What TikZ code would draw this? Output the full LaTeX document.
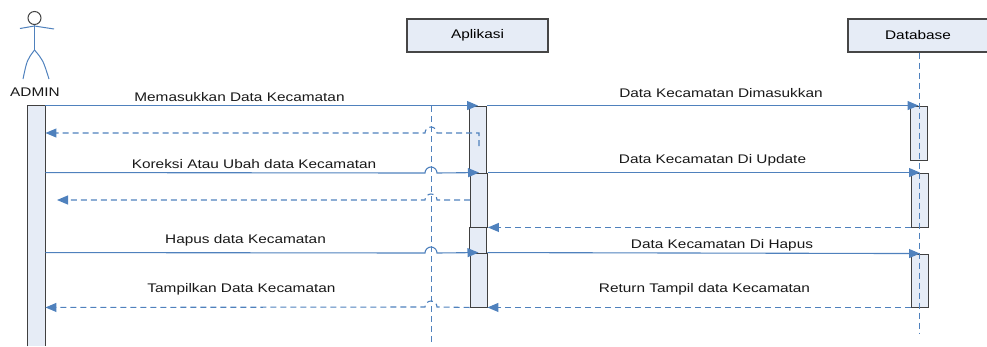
\documentclass[tikz,border=0pt]{standalone}
\usepackage{fontspec}
\setmainfont{Liberation Sans}[FakeStretch=1.23]
\usetikzlibrary{arrows.meta}
\definecolor{seqblue}{RGB}{79,129,189}
\definecolor{seqfill}{RGB}{230,236,246}
\definecolor{seqgrey}{RGB}{70,70,70}
\begin{document}
\begin{tikzpicture}
[x=1pt,y=-1pt,font=\fontsize{12.5}{14}\selectfont,%
  boxdecorate/.style={shape=rectangle,draw=seqgrey,line width=1.2pt,fill=seqfill,minimum width=141pt,minimum height=33pt,inner sep=0pt},%
  bardecorate/.style={shape=rectangle,draw=black!75,line width=0.9pt,fill=seqfill,minimum width=17pt,inner sep=0pt},%
  calldecorate/.style={-{Triangle[length=11pt,width=9pt]},line width=1.1pt,color=seqblue},%
  returndecorate/.style={-{Triangle[length=11pt,width=9pt]},line width=1.1pt,color=seqblue,dash pattern=on 6pt off 4pt},%
  lifedecorate/.style={line width=1pt,color=seqblue,dash pattern=on 6pt off 4pt},%
  labeldecorate/.style={anchor=base,inner sep=0pt,text=black!90}]
\useasboundingbox (0,0) rectangle (987,346);
%%% actor ADMIN
\node (head) at (34.5,18) [shape=circle,draw=seqgrey,line width=1pt,minimum size=13pt,inner sep=0pt] {};
\draw[seqblue,line width=1pt] (head.south) -- (34.5,50);
\draw[seqblue,line width=1pt] (20,28.5) -- (34.5,26) -- (54,29);
\draw[seqblue,line width=1pt] (34.5,50) .. controls (27,60) .. (23,79);
\draw[seqblue,line width=1pt] (34.5,50) .. controls (43,60) .. (49,79);
\node (admin) at (35,96) [labeldecorate] {ADMIN};
%%% objects
\node (apl) at (477.5,35.5) [boxdecorate] {Aplikasi};
\node (db) at (918,35.5) [boxdecorate,minimum width=140pt] {Database};
% lifelines
\coordinate (apltop) at (431,106);
\coordinate (aplend) at (431,345);
\coordinate (dbend) at (919,333);
\draw[lifedecorate] (apltop) -- (aplend);
% activation bars
\node (adminbar) at (36.5,226) [bardecorate,draw=none,minimum height=240pt] {};
\draw[black!75,line width=1pt] (adminbar.south west) -- (adminbar.north west) -- (adminbar.north east) -- (adminbar.south east);
\node (ap1) at (478,139.5) [bardecorate,minimum height=67pt] {};
\node (ap2) at (479,200) [bardecorate,minimum height=54pt] {};
\node (ap3) at (477.5,240) [bardecorate,minimum height=26pt] {};
\node (ap4) at (478.5,280) [bardecorate,minimum height=54pt] {};
\node (db1) at (918.5,133) [bardecorate,minimum height=54pt] {};
\node (db2) at (920,200) [bardecorate,minimum height=54pt] {};
\node (db3) at (920,280.5) [bardecorate,minimum height=53pt] {};
\draw[lifedecorate] (db.south -| dbend) -- (dbend);
%%% messages ADMIN - Aplikasi
\coordinate (back1) at (479,146);
\coordinate (back2) at (57,200);
\draw[calldecorate] (adminbar.east |- ap1.north) -- (ap1.north);
\node (m1) at (239.5,101.5) [labeldecorate] {Memasukkan Data Kecamatan};
\draw[returndecorate] (back1) -- (back1 |- 0,133) -- (437,133) arc (0:-180:6) -- (adminbar.east |- 0,133);
\draw[calldecorate] (adminbar.east |- ap2.north) -- (425,173) arc (180:360:6) -- (ap2.north);
\node (m2) at (254,168) [labeldecorate] {Koreksi Atau Ubah data Kecamatan};
\draw[returndecorate] (ap2.west) -- (437,200) arc (0:-180:6) -- (back2);
\draw[calldecorate] (adminbar.east |- ap4.north) -- (425,253) arc (180:360:6) -- (ap4.north);
\node (m3) at (245.5,243.5) [labeldecorate] {Hapus data Kecamatan};
\draw[returndecorate] (ap4.south west) -- (437,307) arc (0:-180:6) -- (adminbar.east |- ap4.south);
\node (m4) at (241.5,292) [labeldecorate] {Tampilkan Data Kecamatan};
%%% messages Aplikasi - Database
\draw[calldecorate] (ap1.north east) -- (db1.north);
\node (d1) at (721,97) [labeldecorate] {Data Kecamatan Dimasukkan};
\draw[calldecorate] (ap2.north east) -- (db2.north);
\node (d2) at (712.5,163) [labeldecorate] {Data Kecamatan Di Update};
\draw[returndecorate] (db2.south west) -- (ap2.south east);
\draw[calldecorate] (ap4.north east) -- (db3.north);
\node (d3) at (722,248) [labeldecorate] {Data Kecamatan Di Hapus};
\draw[returndecorate] (db3.south west) -- (ap4.south east);
\node (d4) at (704.5,292) [labeldecorate] {Return Tampil data Kecamatan};
\end{tikzpicture}
\end{document}
